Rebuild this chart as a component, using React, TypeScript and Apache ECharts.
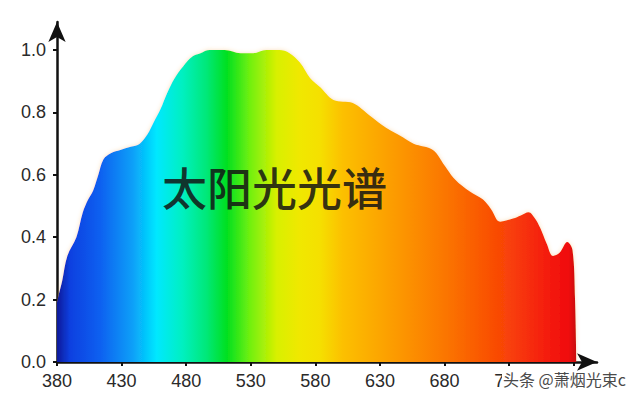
import React, { useEffect, useRef } from "react";
import * as echarts from "echarts";

const wavelengths = [
  380, 381, 384, 388, 395, 400, 404, 408, 412, 416, 422, 429, 437, 444, 450, 455, 460, 465, 471, 478,
  485, 491, 498, 510, 522, 532, 542, 552, 560, 568, 576, 584, 594, 609, 622, 635, 648, 656, 671, 680,
  687, 695, 702, 710, 716, 723, 733, 739, 745, 750, 754, 759, 764, 769, 775, 779, 781, 782,
];
const intensity = [
  0.19, 0.21, 0.26, 0.34, 0.4, 0.48, 0.52, 0.55, 0.6, 0.65, 0.67, 0.68, 0.69, 0.7, 0.73, 0.77, 0.81, 0.86, 0.91, 0.95,
  0.98, 0.99, 1.0, 1.0, 0.99, 0.99, 1.0, 1.0, 0.99, 0.96, 0.91, 0.88, 0.84, 0.83, 0.79, 0.75, 0.72, 0.7, 0.68, 0.63,
  0.59, 0.56, 0.54, 0.52, 0.49, 0.45, 0.46, 0.47, 0.48, 0.46, 0.43, 0.38, 0.34, 0.35, 0.385, 0.36, 0.2, 0.0,
];
const xTickValues = [380, 430, 480, 530, 580, 630, 680, 730, 780];
const xLabelValues = [380, 430, 480, 530, 580, 630, 680, 730];
const yTicks = [0, 0.2, 0.4, 0.6, 0.8, 1.0];
const titleText = "太阳光光谱";
const watermark = "头条 @萧烟光束c";

const spectrumStops = [
  { offset: 0.0, color: "#0a1a9a" },
  { offset: 0.025, color: "#0a40e0" },
  { offset: 0.083, color: "#0a60f0" },
  { offset: 0.146, color: "#0aa0f8" },
  { offset: 0.192, color: "#00e8ff" },
  { offset: 0.242, color: "#00f0c0" },
  { offset: 0.288, color: "#00e878" },
  { offset: 0.327, color: "#00e020" },
  { offset: 0.371, color: "#70f010" },
  { offset: 0.423, color: "#d8f000" },
  { offset: 0.467, color: "#f0e800" },
  { offset: 0.506, color: "#f5e000" },
  { offset: 0.55, color: "#fcc000" },
  { offset: 0.615, color: "#fca800" },
  { offset: 0.679, color: "#fc9000" },
  { offset: 0.742, color: "#fb7800" },
  { offset: 0.808, color: "#fa5c00" },
  { offset: 0.871, color: "#f84008" },
  { offset: 0.935, color: "#f52010" },
  { offset: 0.985, color: "#f00a0a" },
  { offset: 1.0, color: "#c81010" },
];

export default function App() {
  const ref = useRef<HTMLDivElement>(null);
  useEffect(() => {
    document.body.style.margin = "0";
    if (!ref.current) return;
    const chart = echarts.init(ref.current, undefined, { renderer: "svg" });
    const data = wavelengths.map((w, i) => [w, intensity[i]]);
    const labelStyle = {
      color: "#2a2a2a",
      fontSize: 18,
      fontFamily: "Liberation Sans, Arial, sans-serif",
    };
    chart.setOption({
      animation: false,
      backgroundColor: "#ffffff",
      grid: { left: 57, right: 43, top: 22, bottom: 38, containLabel: false },
      xAxis: {
        type: "value",
        min: 380,
        max: 798,
        splitLine: { show: false },
        axisLine: {
          lineStyle: { color: "#111", width: 2.5 },
          symbol: ["none", "arrow"],
          symbolSize: [13, 20],
        },
        axisTick: { show: true, customValues: xTickValues, length: 4, lineStyle: { color: "#111", width: 2 } },
        axisLabel: { ...labelStyle, customValues: xLabelValues, margin: 10 },
      },
      yAxis: {
        type: "value",
        min: 0,
        max: 1.09,
        splitLine: { show: false },
        axisLine: {
          show: true,
          lineStyle: { color: "#111", width: 2.5 },
          symbol: ["none", "arrow"],
          symbolSize: [13, 20],
        },
        axisTick: { show: true, customValues: yTicks, length: 4, lineStyle: { color: "#111", width: 2 } },
        axisLabel: {
          ...labelStyle,
          customValues: yTicks,
          margin: 11,
          formatter: (v: number) => v.toFixed(1),
        },
      },
      series: [
        {
          type: "line",
          data,
          smooth: 0.35,
          symbol: "none",
          lineStyle: { width: 0 },
          areaStyle: {
            opacity: 1,
            color: new echarts.graphic.LinearGradient(0, 0, 1, 0, spectrumStops),
            shadowBlur: 4,
            shadowColor: "rgba(240,160,60,0.35)",
          },
          z: 1,
        },
      ],
      graphic: [
        {
          type: "text",
          left: 162,
          top: 164,
          z: 10,
          style: {
            text: titleText,
            fontSize: 45,
            fontWeight: 500,
            fontFamily: "Noto Sans CJK SC, sans-serif",
            fill: "rgba(20,20,20,0.86)",
          },
        },
        {
          type: "text",
          left: 502,
          top: 371,
          z: 10,
          style: {
            text: watermark,
            fontSize: 16,
            fontFamily: "Noto Sans CJK SC, sans-serif",
            fill: "#4a4a4a",
            backgroundColor: "#ffffff",
            padding: [0, 4, 0, 1],
          },
        },
      ],
    });
    return () => chart.dispose();
  }, []);
  return <div ref={ref} style={{ width: 640, height: 400 }} />;
}
